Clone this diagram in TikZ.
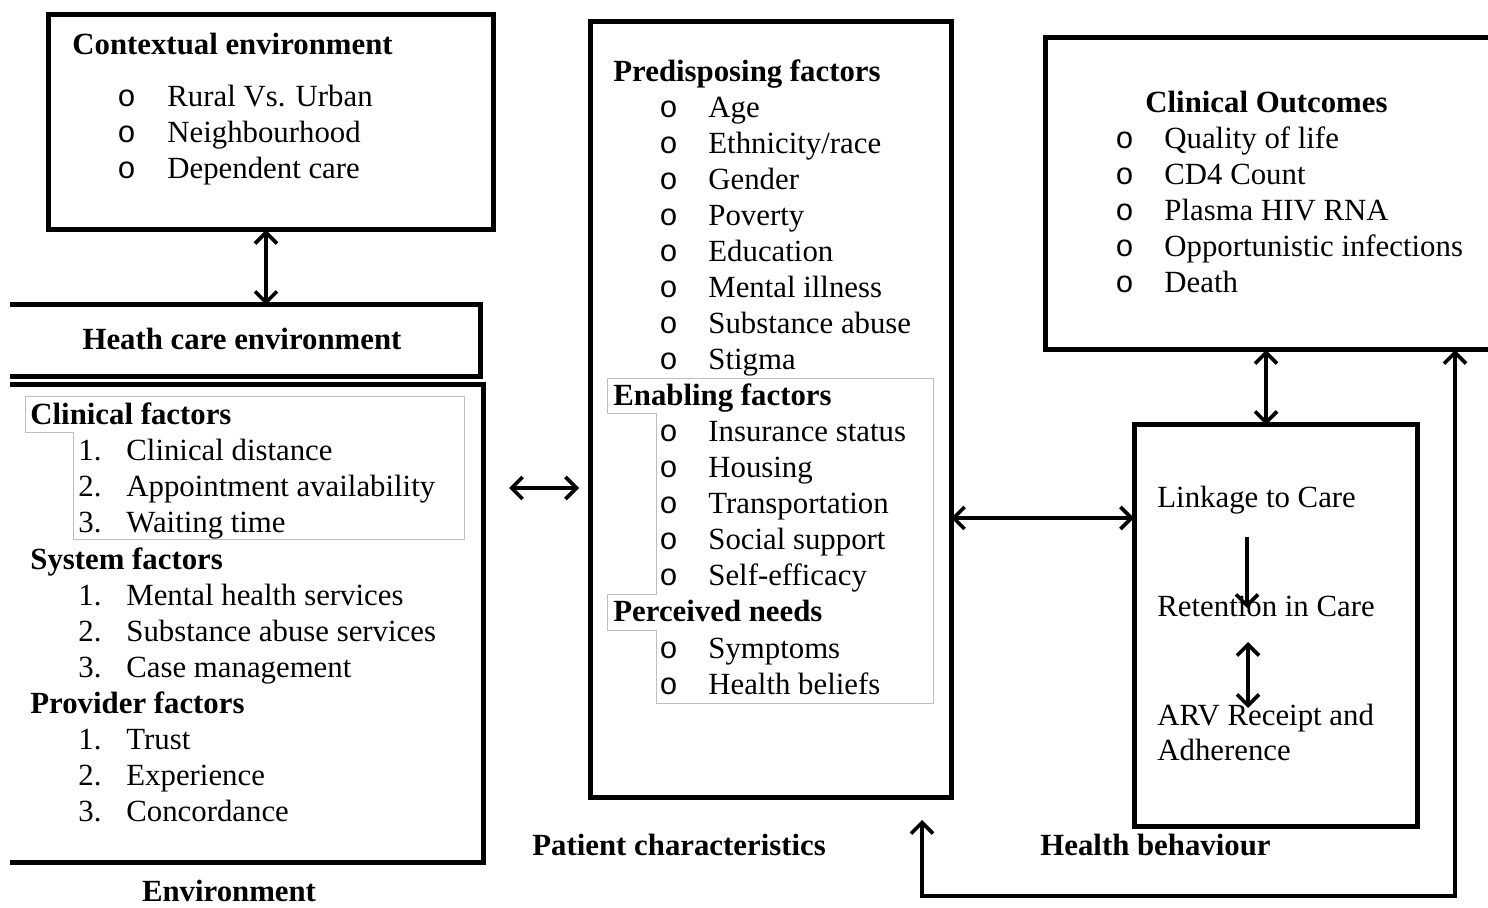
\documentclass[tikz,border=0pt]{standalone}
\usepackage{fontspec}
\setmainfont{Liberation Serif}
\newfontfamily\bulfont{Liberation Mono}
\usetikzlibrary{arrows.meta}
\newcommand\fsz{\fontsize{15.4}{17.5}\selectfont}
\begin{document}
\begin{tikzpicture}[x=0.5pt,y=-0.5pt,
  box/.style={draw, line width=2.5pt, anchor=north west, inner sep=0pt, outer sep=0pt},
  txt/.style={anchor=base west, inner sep=0pt, font=\fsz},
  btxt/.style={anchor=base west, inner sep=0pt, font=\fsz\bfseries},
  bul/.style={anchor=base west, inner sep=0pt, font=\fsz\bulfont},
  grayline/.style={draw=black!25, line width=0.5pt},
  dbl/.style={line width=1.8pt, {Straight Barb[length=5.5pt,width=11pt]}-{Straight Barb[length=5.5pt,width=11pt]}},
  sgl/.style={line width=1.8pt, -{Straight Barb[length=5.5pt,width=11pt]}}
]
\useasboundingbox (0,0) rectangle (1488,908);

% ---------- boxes ----------
\node[box, minimum width=222.5pt, minimum height=107.5pt] (ctx) at (48,15) {};
\begin{scope}
  \clip (10,0) rectangle (1488,908);
  \node[box, minimum width=250pt, minimum height=36pt] (hce) at (-20,305) {};
  \node[box, minimum width=251.5pt, minimum height=238.5pt] (env) at (-20,385) {};
\end{scope}
\node[box, minimum width=180.5pt, minimum height=387.5pt] (pc) at (590,22) {};
\node[box, minimum width=232.5pt, minimum height=156pt] (co) at (1045,38) {};
\node[box, minimum width=141.5pt, minimum height=200.5pt] (hb) at (1134,425) {};

% ---------- gray outlines ----------
\draw[grayline] (25,397) -- (464,397) -- (464,540) -- (73,540) -- (73,433) -- (25,433) -- cycle;
\draw[grayline] (607,379) -- (933,379) -- (933,703) -- (656,703) -- (656,630) -- (607,630)
  -- (607,595) -- (656,595) -- (656,414) -- (607,414) -- cycle;

% ---------- contextual environment ----------
\node[btxt] (ctxt) at (72,55) {Contextual environment};
\foreach \t [count=\i from 0] in {Rural Vs. Urban, Neighbourhood, Dependent care} {
  \node[bul] (cb\i) at (117,107+36*\i) {o};
  \node[txt] (ct\i) at (167,107+36*\i) {\t};
}

% ---------- health care environment ----------
\node[anchor=base, inner sep=0pt, font=\fsz\bfseries] (hcet) at (242,350) {Heath care environment};

\node[btxt] (clf) at (30,425) {Clinical factors};
\node[btxt] (syf) at (30,569) {System factors};
\node[btxt] (prf) at (30,713) {Provider factors};
\foreach \t [count=\i from 1] in {Clinical distance, Appointment availability, Waiting time} {
  \node[txt] (cn\i) at (78,425+36*\i) {\i.};
  \node[txt] (cl\i) at (126,425+36*\i) {\t};
}
\foreach \t [count=\i from 1] in {Mental health services, Substance abuse services, Case management} {
  \node[txt] (sn\i) at (78,569+36*\i) {\i.};
  \node[txt] (sl\i) at (126,569+36*\i) {\t};
}
\foreach \t [count=\i from 1] in {Trust, Experience, Concordance} {
  \node[txt] (pn\i) at (78,713+36*\i) {\i.};
  \node[txt] (pl\i) at (126,713+36*\i) {\t};
}
\node[anchor=base, inner sep=0pt, font=\fsz\bfseries] (envt) at (229,901) {Environment};

% ---------- patient characteristics ----------
\node[btxt] (pdf) at (613,82) {Predisposing factors};
\foreach \t [count=\i from 1] in {Age, Ethnicity/race, Gender, Poverty, Education, Mental illness, Substance abuse, Stigma} {
  \node[bul] (pb\i) at (659,82+36*\i) {o};
  \node[txt] (pt\i) at (708,82+36*\i) {\t};
}
\node[btxt] (enf) at (613,406) {Enabling factors};
\foreach \t [count=\i from 1] in {Insurance status, Housing, Transportation, Social support, Self-efficacy} {
  \node[bul] (eb\i) at (659,406+36*\i) {o};
  \node[txt] (et\i) at (708,406+36*\i) {\t};
}
\node[btxt] (pnf) at (613,621) {Perceived needs};
\foreach \t [count=\i from 1] in {Symptoms, Health beliefs} {
  \node[bul] (nb\i) at (659,622+36*\i) {o};
  \node[txt] (nt\i) at (708,622+36*\i) {\t};
}
\node[btxt] (pct) at (532,855) {Patient characteristics};

% ---------- clinical outcomes ----------
\node[btxt] (cot) at (1145,113) {Clinical Outcomes};
\foreach \t [count=\i from 1] in {Quality of life, CD4 Count, Plasma HIV RNA, Opportunistic infections, Death} {
  \node[bul] (ob\i) at (1115,113+36*\i) {o};
  \node[txt] (ot\i) at (1164,113+36*\i) {\t};
}

% ---------- health behaviour ----------
\node[txt] (lk) at (1157,508) {Linkage to Care};
\node[txt] (rt) at (1157,617) {Retention in Care};
\node[txt] (arv1) at (1157,725) {ARV Receipt and};
\node[txt] (arv2) at (1157,760) {Adherence};
\node[btxt] (hbt) at (1040,855) {Health behaviour};

% ---------- connectors ----------
\draw[dbl] (266,0 |- ctx.south) -- (266,0 |- hce.north);
\coordinate (la) at (509,488);
\coordinate (lb) at (579,488);
\draw[dbl] (la) -- (lb);
\draw[dbl] (pc.east |- 0,518) -- (hb.west |- 0,518);
\draw[dbl] (1266,0 |- co.south) -- (1266,0 |- hb.north);
\coordinate (d1) at (1247,537);
\coordinate (d2) at (1247,608);
\draw[sgl] (d1) -- (d2);
\coordinate (e1) at (1248,642);
\coordinate (e2) at (1248,708);
\draw[dbl] (e1) -- (e2);
\coordinate (fb) at (922,820);
\draw[dbl] (fb) -- (922,896) -- (1455,896) -- (1455,0 |- co.south);
\end{tikzpicture}
\end{document}
